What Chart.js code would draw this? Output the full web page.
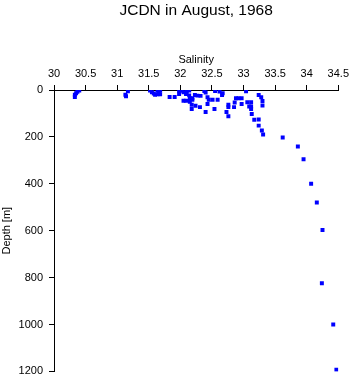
<!DOCTYPE html>
<html>
<head>
<meta charset="utf-8">
<script src="https://cdn.jsdelivr.net/npm/chart.js@4"></script>
<style>
  html, body { margin: 0; padding: 0; background: #fff; }
  #wrap { width: 353px; height: 384px; }
</style>
</head>
<body>
<div id="wrap"><canvas id="profile"></canvas></div>
<script>
// salinity / depth pairs
var salinity = [
  30.40, 30.37, 30.35, 30.33, 30.33, 31.17, 31.13, 31.14,
  31.52, 31.55, 31.58, 31.60, 31.64, 31.68, 31.64, 31.68, 31.66,
  31.83, 31.91, 31.98, 31.98, 32.02, 32.05, 32.10, 32.10, 32.14, 32.14, 32.09,
  32.19, 32.15, 32.05, 32.09, 32.15, 32.19, 32.23, 32.27, 32.32,
  32.18, 32.24, 32.31, 32.18, 32.38, 32.40, 32.43, 32.45, 32.43,
  32.51, 32.59, 32.55, 32.62, 32.66, 32.67, 32.54, 32.40, 32.73, 32.76,
  32.76, 32.76, 32.85, 32.86, 32.88, 32.92, 32.97, 32.97, 33.04,
  33.06, 33.12, 33.09, 33.12, 33.12, 33.13, 33.24, 33.28, 33.30, 33.30,
  33.17, 33.24, 33.24, 33.29, 33.31,
  33.62, 33.86, 33.95, 34.07, 34.16, 34.25, 34.24, 34.42, 34.47
];
var depth = [
  2, 8, 14, 20, 30, 5, 20, 27,
  2, 10, 15, 20, 2, 2, 18, 18, 10,
  30, 30, 2, 17, 3, 10, 2, 17, 2, 23, 17,
  35, 35, 46, 46, 50, 42, 21, 24, 25,
  63, 67, 73, 81, 4, 11, 31, 42, 60,
  42, 42, 4, 7, 21, 14, 81, 94, 94, 112,
  63, 73, 73, 53, 35, 35, 35, 60, 5,
  52, 52, 70, 70, 81, 102, 21, 31, 47, 66,
  127, 126, 152, 173, 190,
  203, 241, 295, 400, 480, 597, 824, 1000, 1193
];
var salTicks = [30, 30.5, 31, 31.5, 32, 32.5, 33, 33.5, 34, 34.5];
var depthTicks = [0, 200, 400, 600, 800, 1000, 1200];

var points = salinity.map(function (s, i) { return { x: s, y: depth[i] }; });

Chart.defaults.font.family = '"Liberation Sans", Arial, sans-serif';
Chart.defaults.color = '#000';

// center the main title over the plot area instead of the whole canvas
var titleOverPlot = {
    id: 'titleOverPlot',
    afterLayout: function (chart) {
        if (chart.titleBlock) {
            chart.titleBlock.left = chart.chartArea.left;
            chart.titleBlock.right = chart.chartArea.right;
        }
    }
};

var ctx = document.getElementById('profile').getContext('2d');
var chart = new Chart(ctx, {
    type: 'scatter',
    data: {
        datasets: [{
            data: points,
            backgroundColor: '#0000ff',
            borderWidth: 0,
            pointStyle: 'rect',
            pointRadius: 2.8,
            pointHoverRadius: 2.8
        }]
    },
    plugins: [titleOverPlot],
    options: {
        responsive: true,
        maintainAspectRatio: false,
        animation: false,
        layout: { padding: { left: 0, top: 0, right: 14, bottom: 8 } },
        plugins: {
            legend: { display: false },
            tooltip: { enabled: false },
            title: {
                display: true,
                text: 'JCDN in August, 1968',
                color: '#000',
                font: { size: 15.5, weight: 'normal', lineHeight: '20px' },
                padding: { top: 1, bottom: 1 }
            }
        },
        scales: {
            x: {
                type: 'linear',
                position: 'top',
                min: 30,
                max: 34.5,
                afterBuildTicks: function (scale) {
                    scale.ticks = salTicks.map(function (v) { return { value: v }; });
                },
                afterFit: function (scale) { scale.height = 68; },
                ticks: {
                    autoSkip: false,
                    maxRotation: 0,
                    padding: 4,
                    font: { size: 11 },
                    callback: function (v) { return String(v); }
                },
                grid: { drawOnChartArea: false, drawTicks: true, tickLength: 5, color: '#000' },
                border: { display: true, color: '#000', width: 1 },
                title: {
                    display: true,
                    text: 'Salinity',
                    font: { size: 11 },
                    padding: { top: 31, bottom: 0 }
                }
            },
            y: {
                type: 'linear',
                reverse: true,
                min: 0,
                max: 1200,
                afterBuildTicks: function (scale) {
                    scale.ticks = depthTicks.map(function (v) { return { value: v }; });
                },
                afterFit: function (scale) { scale.width = 54; },
                ticks: {
                    autoSkip: false,
                    padding: 6,
                    font: { size: 11 },
                    callback: function (v) { return String(v); }
                },
                grid: { drawOnChartArea: false, drawTicks: true, tickLength: 5, color: '#000' },
                border: { display: true, color: '#000', width: 1 },
                title: {
                    display: true,
                    text: 'Depth [m]',
                    font: { size: 11 },
                    padding: { top: 0, bottom: 0 }
                }
            }
        }
    }
});
</script>
</body>
</html>
